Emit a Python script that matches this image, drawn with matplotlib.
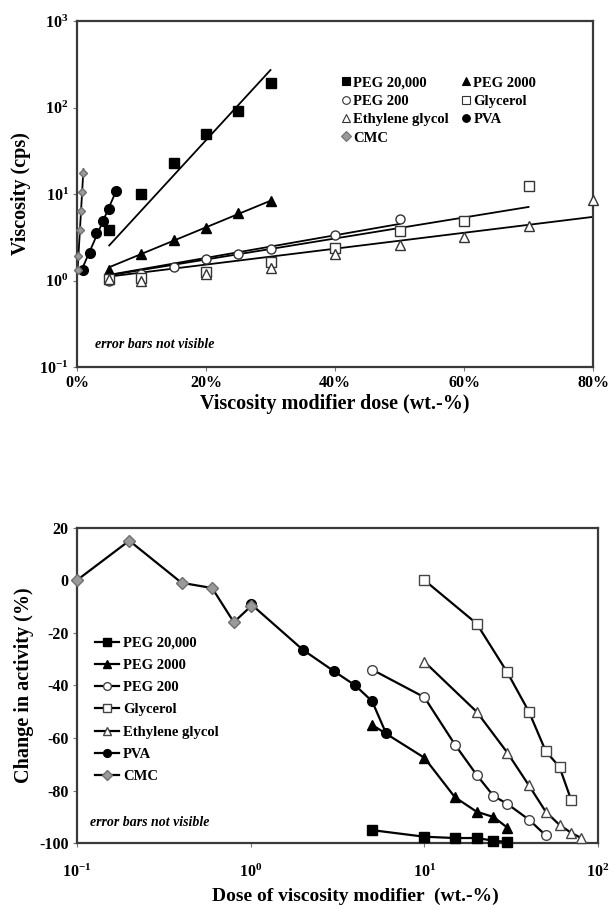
import numpy as np
import matplotlib
matplotlib.use("Agg")
import matplotlib.pyplot as plt
from matplotlib.ticker import FixedLocator, NullLocator
from matplotlib.lines import Line2D

plt.rcParams['font.family'] = ['Liberation Serif', 'DejaVu Serif']
plt.rcParams['font.weight'] = 'bold'

# top panel: viscosity (cps) vs dose (wt.-%)
peg20k_dose = [5, 10, 15, 20, 25, 30]
peg20k_visc = [3.8, 10.0, 22.8, 49, 92, 190]
peg2k_dose = [5, 10, 15, 20, 25, 30]
peg2k_visc = [1.32, 2.0, 2.97, 4.0, 6.1, 8.3]
peg200_dose = [5, 10, 15, 20, 25, 30, 40, 50]
peg200_visc = [1.0, 1.2, 1.42, 1.75, 2.0, 2.3, 3.4, 5.2]
glyc_dose = [5, 10, 20, 30, 40, 50, 60, 70]
glyc_visc = [1.05, 1.08, 1.27, 1.65, 2.4, 3.7, 4.9, 12.3]
eg_dose = [5, 10, 20, 30, 40, 50, 60, 70, 80]
eg_visc = [1.05, 1.0, 1.2, 1.4, 2.0, 2.55, 3.2, 4.3, 8.6]
pva_dose = [1, 2, 3, 4, 5, 6]
pva_visc = [1.34, 2.1, 3.5, 4.9, 6.7, 10.9]
cmc_dose = [0.1, 0.2, 0.4, 0.6, 0.8, 1.0]
cmc_visc = [1.34, 1.9, 3.8, 6.3, 10.5, 17.5]

# bottom panel: change in activity (%) vs dose (wt.-%)
act_peg20k_dose = [5, 10, 15, 20, 25, 30]
act_peg20k = [-95, -97.5, -98, -98, -99, -99.5]
act_peg2k_dose = [5, 10, 15, 20, 25, 30]
act_peg2k = [-55, -67.5, -82.5, -88, -90, -94]
act_peg200_dose = [5, 10, 15, 20, 25, 30, 40, 50]
act_peg200 = [-34, -44.5, -62.5, -74, -82, -85, -91, -97]
act_glyc_dose = [10, 20, 30, 40, 50, 60, 70]
act_glyc = [0, -16.5, -35, -50, -65, -71, -83.5]
act_eg_dose = [10, 20, 30, 40, 50, 60, 70, 80]
act_eg = [-31, -50, -65.5, -78, -88, -93, -96, -98]
act_pva_dose = [1, 2, 3, 4, 5, 6]
act_pva = [-9, -26.5, -34.5, -40, -46, -58]
act_cmc_dose = [0.1, 0.2, 0.4, 0.6, 0.8, 1.0]
act_cmc = [0, 15, -1, -3, -16, -10]

names = ['PEG 20,000', 'PEG 2000', 'PEG 200', 'Glycerol', 'Ethylene glycol', 'PVA', 'CMC']
top_x_ticks = [0, 20, 40, 60, 80]
top_y_ticks = [0.1, 1, 10, 100, 1000]
top_y_labels = [r'$\mathregular{10^{-1}}$', r'$\mathregular{10^{0}}$', r'$\mathregular{10^{1}}$',
                r'$\mathregular{10^{2}}$', r'$\mathregular{10^{3}}$']
bot_x_ticks = [0.1, 1, 10, 100]
bot_x_labels = [r'$\mathregular{10^{-1}}$', r'$\mathregular{10^{0}}$', r'$\mathregular{10^{1}}$',
                r'$\mathregular{10^{2}}$']
bot_y_ticks = [20, 0, -20, -40, -60, -80, -100]

GREY = '#9a9a9a'
EDGE = '#333333'
styles = {
    'PEG 20,000': dict(marker='s', mfc='black', mec='black'),
    'PEG 2000': dict(marker='^', mfc='black', mec='black'),
    'PEG 200': dict(marker='o', mfc='white', mec=EDGE),
    'Glycerol': dict(marker='s', mfc='white', mec=EDGE),
    'Ethylene glycol': dict(marker='^', mfc='white', mec=EDGE),
    'PVA': dict(marker='o', mfc='black', mec='black'),
    'CMC': dict(marker='D', mfc=GREY, mec='#707070'),
}
top_sets = [(peg20k_dose, peg20k_visc), (peg2k_dose, peg2k_visc), (peg200_dose, peg200_visc),
            (glyc_dose, glyc_visc), (eg_dose, eg_visc), (pva_dose, pva_visc), (cmc_dose, cmc_visc)]
bot_sets = [(act_peg20k_dose, act_peg20k), (act_peg2k_dose, act_peg2k), (act_peg200_dose, act_peg200),
            (act_glyc_dose, act_glyc), (act_eg_dose, act_eg), (act_pva_dose, act_pva), (act_cmc_dose, act_cmc)]
top_sizes = {'PEG 20,000': 7.5, 'PEG 2000': 7, 'PEG 200': 6.5, 'Glycerol': 6.5,
             'Ethylene glycol': 6.5, 'PVA': 7, 'CMC': 4.5}


def exp_fit(x, y):
    # exponential trendline with intercept fixed at 1
    x = np.asarray(x, float)
    ly = np.log10(np.asarray(y, float))
    k = np.sum(x * ly) / np.sum(x * x)
    xs = np.linspace(x.min(), x.max(), 50)
    return xs, 10 ** (k * xs)


def style_axes(ax):
    for s in ax.spines.values():
        s.set_linewidth(1.6)
        s.set_color('#3a3a3a')
    ax.tick_params(which='both', direction='out', length=3, width=0.8, color='#777777',
                   labelsize=11.5, pad=3)


fig = plt.figure(figsize=(6.13, 9.10), dpi=100)

# ---- top panel
ax1 = fig.add_axes([0.1256, 0.5967, 0.8418, 0.3802])
ax1.set_yscale('log')
for name, (x, y) in zip(names, top_sets):
    xs, ys = exp_fit(x, y)
    ax1.plot(xs, ys, color='black', lw=1.3, zorder=2)
for name, (x, y) in zip(names, top_sets):
    st = styles[name]
    ax1.plot(x, y, ls='none', marker=st['marker'], mfc=st['mfc'], mec=st['mec'],
             ms=top_sizes[name], mew=1.0, zorder=3, clip_on=False)
ax1.set_xlim(0, 80)
ax1.set_ylim(0.1, 1000)
ax1.xaxis.set_major_locator(FixedLocator(top_x_ticks))
ax1.set_xticklabels([f'{t}%' for t in top_x_ticks])
ax1.yaxis.set_major_locator(FixedLocator(top_y_ticks))
ax1.yaxis.set_minor_locator(NullLocator())
ax1.set_yticklabels(top_y_labels)
style_axes(ax1)
ax1.set_xlabel('Viscosity modifier dose (wt.-%)', fontsize=14.5, fontweight='bold', labelpad=2)
ax1.set_ylabel('Viscosity (cps)', fontsize=14.5, fontweight='bold', labelpad=6)
ax1.text(0.035, 0.055, 'error bars not visible', transform=ax1.transAxes, fontsize=10,
         fontstyle='italic', fontweight='bold')

order = [0, 2, 4, 6, 1, 3, 5]
handles = [Line2D([], [], ls='none', marker=styles[names[i]]['marker'],
                  mfc=styles[names[i]]['mfc'], mec=styles[names[i]]['mec'], ms=5.5, mew=0.8)
           for i in order]
ax1.legend(handles, [names[i] for i in order], ncol=2, loc='upper left',
           bbox_to_anchor=(0.512, 0.84), frameon=False, fontsize=10.5,
           handlelength=0.6, handletextpad=0.2, columnspacing=0.9, labelspacing=0.35,
           borderpad=0, borderaxespad=0)

# ---- bottom panel
ax2 = fig.add_axes([0.1256, 0.0733, 0.85, 0.347])
ax2.set_xscale('log')
lines = []
for name, (x, y) in zip(names, bot_sets):
    st = styles[name]
    ms = 7 if name != 'CMC' else 6.5
    ln, = ax2.plot(x, y, color='black', lw=1.6, marker=st['marker'], mfc=st['mfc'],
                   mec=st['mec'] if st['mfc'] != 'white' else '#444444', ms=ms, mew=1.0,
                   clip_on=False, zorder=3)
    lines.append(ln)
ax2.set_xlim(0.1, 100)
ax2.set_ylim(-100, 20)
ax2.xaxis.set_major_locator(FixedLocator(bot_x_ticks))
ax2.xaxis.set_minor_locator(NullLocator())
ax2.set_xticklabels(bot_x_labels)
ax2.yaxis.set_major_locator(FixedLocator(bot_y_ticks))
ax2.set_yticklabels([str(t) for t in bot_y_ticks])
style_axes(ax2)
ax2.tick_params(axis='x', pad=12)
ax2.set_xlabel('Dose of viscosity modifier  (wt.-%)', fontsize=14, fontweight='bold')
ax2.xaxis.set_label_coords(0.535, -0.14)
ax2.set_ylabel('Change in activity (%)', fontsize=14.5, fontweight='bold', labelpad=4)
ax2.text(0.025, 0.054, 'error bars not visible', transform=ax2.transAxes, fontsize=10,
         fontstyle='italic', fontweight='bold')
ax2.legend(lines, names, loc='upper left', bbox_to_anchor=(0.035, 0.655), frameon=False,
           fontsize=10.5, handlelength=1.6, handletextpad=0.3, labelspacing=0.62,
           markerscale=0.8, borderpad=0, borderaxespad=0)

fig.savefig('out.png', dpi=100)
